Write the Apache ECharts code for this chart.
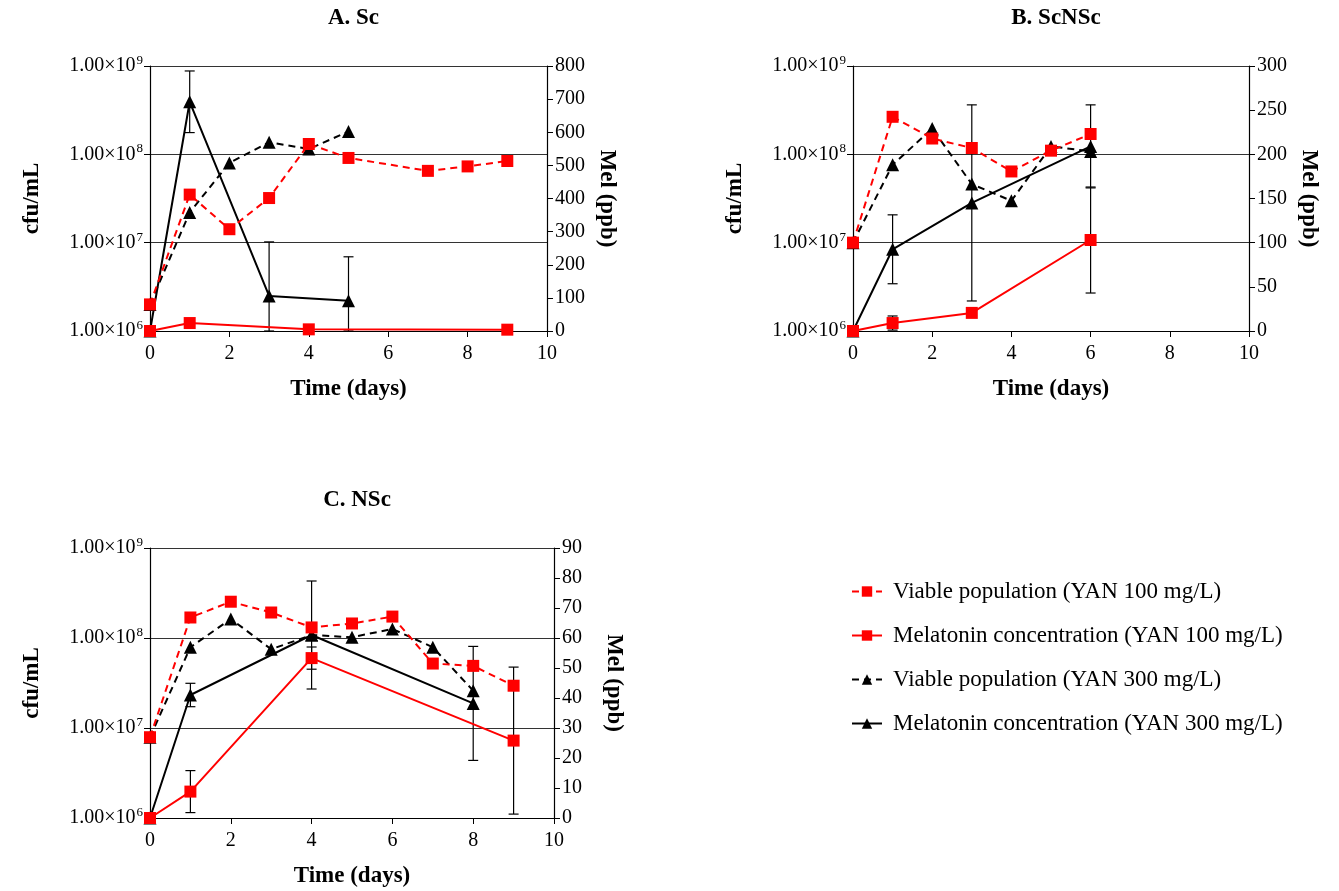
<!DOCTYPE html>
<html>
<head>
<meta charset="utf-8">
<script src="https://cdn.jsdelivr.net/npm/echarts@6/dist/echarts.min.js"></script>
<style>html,body{margin:0;padding:0;background:#fff}#c{width:1339px;height:891px}</style>
</head>
<body>
<div id="c"></div>
<script>
// ---------- DATA ----------
const panelTitles = ['A. Sc', 'B. ScNSc', 'C. NSc'];
const seriesNames = ['Viable population (YAN 100 mg/L)', 'Melatonin concentration (YAN 100 mg/L)',
                     'Viable population (YAN 300 mg/L)', 'Melatonin concentration (YAN 300 mg/L)'];
const xTicks = [0, 2, 4, 6, 8, 10];
const leftTickMantissa = '1.00×10';
const rightMax = [800, 300, 90];
const rightInterval = [100, 50, 10];

// Panel A (Sc)
const aViable100X = [0, 1, 2, 3, 4, 5, 7, 8, 9];
const aViable100  = [2.0e6, 3.5e7, 1.42e7, 3.2e7, 1.31e8, 9.1e7, 6.5e7, 7.3e7, 8.4e7];
const aMel100X    = [0, 1, 4, 9];
const aMel100     = [0, 24, 5, 4];
const aMel100Err  = [0, 0, 0, 0];
const aViable300X = [0, 1, 2, 3, 4, 5];
const aViable300  = [2.0e6, 2.2e7, 8.0e7, 1.37e8, 1.15e8, 1.81e8];
const aMel300X    = [0, 1, 3, 5];
const aMel300     = [0, 692, 106, 91];
const aMel300Err  = [0, 93, 163, 133];

// Panel B (ScNSc)
const bViable100X = [0, 1, 2, 3, 4, 5, 6];
const bViable100  = [1.0e7, 2.66e8, 1.51e8, 1.18e8, 6.4e7, 1.1e8, 1.7e8];
const bMel100X    = [0, 1, 3, 6];
const bMel100     = [0, 9, 20.5, 103];
const bMel100Err  = [0, 8, 0, 60];
const bViable300X = [0, 1, 2, 3, 4, 5, 6];
const bViable300  = [1.0e7, 7.6e7, 1.96e8, 4.6e7, 2.98e7, 1.23e8, 1.08e8];
const bMel300X    = [0, 1, 3, 6];
const bMel300     = [0, 92.5, 145, 209];
const bMel300Err  = [0, 39, 111, 47];

// Panel C (NSc)
const cViable100X = [0, 1, 2, 3, 4, 5, 6, 7, 8, 9];
const cViable100  = [7.9e6, 1.69e8, 2.53e8, 1.92e8, 1.31e8, 1.45e8, 1.73e8, 5.2e7, 4.9e7, 2.95e7];
const cMel100X    = [0, 1, 4, 9];
const cMel100     = [0, 8.8, 53.3, 25.8];
const cMel100Err  = [0, 7, 3.7, 24.5];
const cViable300X = [0, 1, 2, 3, 4, 5, 6, 7, 8];
const cViable300  = [7.9e6, 7.9e7, 1.63e8, 7.5e7, 1.08e8, 1.02e8, 1.26e8, 7.9e7, 2.6e7];
const cMel300X    = [0, 1, 4, 8];
const cMel300     = [0, 41, 61, 38.2];
const cMel300Err  = [0, 3.9, 18, 19];

// ---------- CHART ----------
const FONT = "'Liberation Serif', 'Times New Roman', serif";
const RED = '#ff0000', BLACK = '#000000';
const grids = [
  {left: 150, top: 66, width: 397, height: 265},
  {left: 853, top: 66, width: 396, height: 265},
  {left: 150, top: 548, width: 404, height: 270}
];

const zip = (xs, ys) => xs.map((x, i) => [x, ys[i]]);

const xAxes = grids.map((g, i) => ({
  type: 'value', gridIndex: i, min: 0, max: 10, interval: 2,
  name: 'Time (days)', nameLocation: 'middle', nameGap: 47,
  nameTextStyle: {fontFamily: FONT, fontSize: 23, fontWeight: 'bold', color: '#000'},
  axisLine: {lineStyle: {color: '#000', width: 1.2}},
  axisTick: {show: true, inside: false, length: 6, lineStyle: {color: '#000'}},
  axisLabel: {fontFamily: FONT, fontSize: 20, color: '#000', margin: 13},
  splitLine: {show: false}
}));

const yAxes = [];
grids.forEach((g, i) => {
  yAxes.push({
    type: 'log', logBase: 10, gridIndex: i, min: 1e6, max: 1e9, position: 'left',
    name: 'cfu/mL', nameLocation: 'middle', nameGap: 106, nameRotate: 90,
    nameTextStyle: {fontFamily: FONT, fontSize: 23, fontWeight: 'bold', color: '#000'},
    axisLine: {show: true, lineStyle: {color: '#000', width: 1.2}},
    axisTick: {show: true, inside: false, length: 6, lineStyle: {color: '#000'}},
    minorTick: {show: false},
    axisLabel: {
      showMinLabel: true, showMaxLabel: true, margin: 7,
      formatter: v => '{m|' + leftTickMantissa + '}{e|' + Math.round(Math.log10(v)) + '}',
      rich: {
        m: {fontFamily: FONT, fontSize: 20, lineHeight: 22, color: '#000'},
        e: {fontFamily: FONT, fontSize: 13, lineHeight: 13, padding: [0, 0, 11, 1], color: '#000'}
      }
    },
    splitLine: {show: true, lineStyle: {color: '#333', width: 1}}
  });
  yAxes.push({
    type: 'value', gridIndex: i, min: 0, max: rightMax[i], interval: rightInterval[i], position: 'right',
    name: 'Mel (ppb)', nameLocation: 'middle', nameGap: 48, nameRotate: -90,
    nameTextStyle: {fontFamily: FONT, fontSize: 23, fontWeight: 'bold', color: '#000'},
    axisLine: {show: true, lineStyle: {color: '#000', width: 1.2}},
    axisTick: {show: true, inside: false, length: 6, lineStyle: {color: '#000'}},
    axisLabel: {fontFamily: FONT, fontSize: 20, color: '#000', margin: 8},
    splitLine: {show: false}
  });
});

function lineS(nameIdx, panel, xs, ys, isMel) {
  const is100 = nameIdx < 2;
  const color = is100 ? RED : BLACK;
  const dashed = (nameIdx % 2 === 0);
  return {
    type: 'line', name: seriesNames[nameIdx],
    xAxisIndex: panel, yAxisIndex: panel * 2 + (isMel ? 1 : 0),
    data: zip(xs, ys),
    symbol: is100 ? 'rect' : 'triangle',
    symbolSize: is100 ? 12 : 13,
    showSymbol: true,
    lineStyle: {color: color, width: 2, type: dashed ? [7, 5] : 'solid'},
    itemStyle: {color: color},
    z: is100 ? 4 : 3,
    animation: false
  };
}

function errS(panel, xs, ys, errs) {
  const data = xs.map((x, i) => [x, Math.max(0, ys[i] - errs[i]), ys[i] + errs[i]]).filter((d, i) => errs[i] > 0);
  return {
    type: 'custom', name: 'err', xAxisIndex: panel, yAxisIndex: panel * 2 + 1,
    data: data, z: 2, silent: true, animation: false,
    renderItem: (params, api) => {
      const x = api.value(0);
      const lo = api.coord([x, api.value(1)]);
      const hi = api.coord([x, api.value(2)]);
      const w = 5;
      const st = {stroke: '#000', lineWidth: 1.2};
      return {type: 'group', children: [
        {type: 'line', shape: {x1: lo[0], y1: lo[1], x2: hi[0], y2: hi[1]}, style: st},
        {type: 'line', shape: {x1: hi[0] - w, y1: hi[1], x2: hi[0] + w, y2: hi[1]}, style: st},
        {type: 'line', shape: {x1: lo[0] - w, y1: lo[1], x2: lo[0] + w, y2: lo[1]}, style: st}
      ]};
    }
  };
}

const series = [
  errS(0, aMel300X, aMel300, aMel300Err),
  errS(0, aMel100X, aMel100, aMel100Err),
  lineS(3, 0, aMel300X, aMel300, true),
  lineS(2, 0, aViable300X, aViable300, false),
  lineS(1, 0, aMel100X, aMel100, true),
  lineS(0, 0, aViable100X, aViable100, false),

  errS(1, bMel300X, bMel300, bMel300Err),
  errS(1, bMel100X, bMel100, bMel100Err),
  lineS(3, 1, bMel300X, bMel300, true),
  lineS(2, 1, bViable300X, bViable300, false),
  lineS(1, 1, bMel100X, bMel100, true),
  lineS(0, 1, bViable100X, bViable100, false),

  errS(2, cMel300X, cMel300, cMel300Err),
  errS(2, cMel100X, cMel100, cMel100Err),
  lineS(3, 2, cMel300X, cMel300, true),
  lineS(2, 2, cViable300X, cViable300, false),
  lineS(1, 2, cMel100X, cMel100, true),
  lineS(0, 2, cViable100X, cViable100, false)
];

const titles = grids.map((g, i) => ({
  text: panelTitles[i], left: g.left + g.width / 2, textAlign: 'center',
  top: g.top - 64,
  textStyle: {fontFamily: FONT, fontSize: 23, fontWeight: 'bold', color: '#000'}
}));

const chart = echarts.init(document.getElementById('c'), null, {renderer: 'canvas'});
chart.setOption({
  backgroundColor: '#fff',
  animation: false,
  title: titles,
  grid: grids.map(g => Object.assign({containLabel: false}, g)),
  xAxis: xAxes,
  yAxis: yAxes,
  legend: {
    data: seriesNames, orient: 'vertical', left: 846, top: 575,
    itemWidth: 30, itemHeight: 13, itemGap: 21,
    textStyle: {fontFamily: FONT, fontSize: 23, color: '#000', padding: [0, 0, 0, 6]},
    selectedMode: false
  },
  series: series
});
</script>
</body>
</html>
